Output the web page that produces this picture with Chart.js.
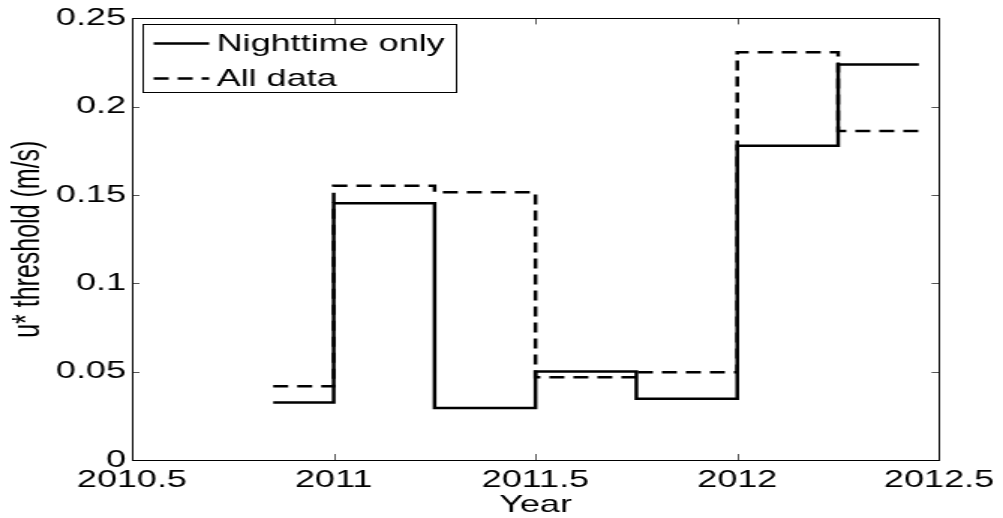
<!DOCTYPE html>
<html>
<head>
<meta charset="utf-8">
<script src="https://cdn.jsdelivr.net/npm/chart.js@4.4.1/dist/chart.umd.min.js"></script>
<style>
    html, body { margin: 0; padding: 0; background: #fff; overflow: hidden; }
    /* the reference figure is stretched sideways, so draw narrow and widen */
    #wrap { width: 669px; height: 518px; transform: scaleX(1.4993); transform-origin: 0 0; }
</style>
</head>
<body>
<div id="wrap"><canvas id="threshold-chart"></canvas></div>
<script>
const periodStart = [2010.85, 2011.0, 2011.25, 2011.5, 2011.75, 2012.0, 2012.25];
const periodEnd = 2012.45;
const nighttimeOnly = [0.0325, 0.1454, 0.0295, 0.0501, 0.0347, 0.1779, 0.2239];
const allData = [0.0417, 0.1552, 0.1516, 0.0469, 0.0497, 0.2309, 0.1862];
const xTickLabels = ['2010.5', '2011', '2011.5', '2012', '2012.5'];
const yTickLabels = ['0', '0.05', '0.1', '0.15', '0.2', '0.25'];

const FONT = "'Liberation Sans', Arial, Helvetica, sans-serif";

// each value holds until the next period starts, last one until periodEnd
function toSteps(values) {
    const pts = periodStart.map((x, i) => ({ x: x, y: values[i] }));
    pts.push({ x: periodEnd, y: values[values.length - 1] });
    return pts;
}

// MATLAB look: box frame, inward ticks on all sides, boxed legend top left
const matlabAxes = {
    id: 'matlabAxes',
    afterDatasetsDraw(chart) {
        const ctx = chart.ctx;
        const a = chart.chartArea;
        const xs = chart.scales.x;
        const ys = chart.scales.y;
        ctx.save();

        ctx.strokeStyle = '#555';
        ctx.lineWidth = 1;
        xs.ticks.forEach(t => {
            const px = Math.round(xs.getPixelForValue(t.value)) + 0.5;
            ctx.beginPath();
            ctx.moveTo(px, a.bottom); ctx.lineTo(px, a.bottom - 6);
            ctx.moveTo(px, a.top); ctx.lineTo(px, a.top + 6);
            ctx.stroke();
        });
        ys.ticks.forEach(t => {
            const py = Math.round(ys.getPixelForValue(t.value)) + 0.5;
            ctx.beginPath();
            ctx.moveTo(a.left, py); ctx.lineTo(a.left + 5, py);
            ctx.moveTo(a.right, py); ctx.lineTo(a.right - 5, py);
            ctx.stroke();
        });

        ctx.strokeStyle = '#000';
        ctx.strokeRect(Math.round(a.left) + 0.5, Math.round(a.top) + 0.5,
            Math.round(a.right - a.left), Math.round(a.bottom - a.top));

        // legend
        const bx = Math.round(a.left + 7) + 0.5;
        const by = Math.round(a.top + 6) + 0.5;
        ctx.fillStyle = '#fff';
        ctx.fillRect(bx, by, 209, 68);
        ctx.strokeRect(bx, by, 209, 68);
        ctx.font = '24px ' + FONT;
        ctx.textBaseline = 'middle';
        ctx.textAlign = 'left';
        const rows = [by + 19, by + 54];
        chart.data.datasets.forEach((ds, i) => {
            ctx.beginPath();
            ctx.lineWidth = ds.borderWidth;
            ctx.setLineDash(ds.borderDash || []);
            ctx.moveTo(bx + 7, rows[i]);
            ctx.lineTo(bx + 44, rows[i]);
            ctx.stroke();
            ctx.setLineDash([]);
            ctx.fillStyle = '#000';
            ctx.fillText(ds.label, bx + 49, rows[i] + 1);
        });
        ctx.restore();
    }
};

const ctx = document.getElementById('threshold-chart').getContext('2d');

new Chart(ctx, {
    type: 'line',
    data: {
        datasets: [{
            label: 'Nighttime only',
            data: toSteps(nighttimeOnly),
            borderColor: '#000',
            borderWidth: 2.5,
            stepped: true,
            pointRadius: 0,
            fill: false
        }, {
            label: 'All data',
            data: toSteps(allData),
            borderColor: '#000',
            borderWidth: 2.5,
            borderDash: [10, 6],
            stepped: true,
            pointRadius: 0,
            fill: false
        }]
    },
    options: {
        responsive: true,
        maintainAspectRatio: false,
        animation: false,
        layout: { padding: { top: 16, right: 40, left: 0, bottom: 0 } },
        plugins: {
            legend: { display: false },
            tooltip: { enabled: false }
        },
        scales: {
            x: {
                type: 'linear',
                min: 2010.5,
                max: 2012.5,
                afterFit: s => { s.height = 58; },
                afterBuildTicks: s => {
                    s.ticks = xTickLabels.map(v => ({ value: parseFloat(v) }));
                },
                grid: { display: false, drawTicks: false },
                border: { display: false },
                ticks: {
                    padding: 6,
                    color: '#000',
                    maxRotation: 0,
                    font: { family: FONT, size: 24 },
                    callback: (v, i) => xTickLabels[i]
                },
                title: {
                    display: true,
                    text: 'Year',
                    color: '#000',
                    font: { family: FONT, size: 24, lineHeight: 1 },
                    padding: { top: 0, bottom: 1 }
                }
            },
            y: {
                min: 0,
                max: 0.25,
                afterFit: s => { s.width = 88; },
                afterBuildTicks: s => {
                    s.ticks = yTickLabels.map(v => ({ value: parseFloat(v) }));
                },
                grid: { display: false, drawTicks: false },
                border: { display: false },
                ticks: {
                    padding: 4,
                    color: '#000',
                    font: { family: FONT, size: 24 },
                    callback: (v, i) => yTickLabels[i]
                },
                title: {
                    display: true,
                    text: 'u* threshold (m/s)',
                    color: '#000',
                    font: { family: FONT, size: 25, lineHeight: 1.2 },
                    padding: { top: 4, bottom: 0 }
                }
            }
        }
    },
    plugins: [matlabAxes]
});
</script>
</body>
</html>
